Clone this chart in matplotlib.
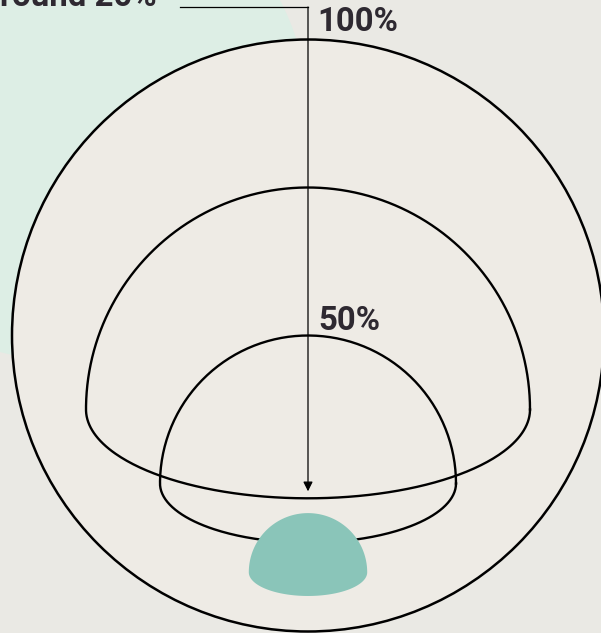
import numpy as np
import matplotlib.pyplot as plt
from matplotlib.patches import Circle

# shares shown as domes, relative to the whole (100%)
shares = [100, 75, 50, 20]
labels = ["100%", "", "50%", "round 20%"]

bg = "#EAE9E4"
inside = "#EEEBE5"
mint = "#DDEEE5"
teal = "#8AC5B9"
ink = "#2E2931"

W, H = 601, 633
fig = plt.figure(figsize=(W / 100, H / 100), dpi=100, facecolor=bg)
ax = fig.add_axes([0, 0, 1, 1])
ax.set_xlim(0, W)
ax.set_ylim(H, 0)
ax.set_aspect("auto")
ax.axis("off")
ax.set_facecolor(bg)

cx, cy, R = 308, 335.5, 296
bottom = cy + R

# mint backdrop circle (upper left)
ax.add_patch(Circle((62, 114), 246, facecolor=mint, edgecolor="none", zorder=1))
# the whole
ax.add_patch(Circle((cx, cy), R, facecolor=inside, edgecolor="black", lw=1.8, zorder=2))

t = np.linspace(0, np.pi, 200)


def dome(share):
    r = R * share / 100
    dcy = bottom - r
    b = 0.4 * r
    xs = np.concatenate([cx + r * np.cos(t), cx - r * np.cos(t)])
    ys = np.concatenate([dcy - r * np.sin(t), dcy + b * np.sin(t)])
    return xs, ys, r


for s in shares[1:3]:
    xs, ys, r = dome(s)
    ax.plot(np.append(xs, xs[0]), np.append(ys, ys[0]), color="black", lw=1.7, zorder=3)

xs, ys, r = dome(shares[3])
ax.fill(xs, ys, color=teal, lw=0, zorder=4)

font = dict(family=["Roboto", "DejaVu Sans"], weight="bold", size=23.8, color=ink)

# labels
ax.text(317, 31, labels[0], ha="left", va="baseline", zorder=6, **font)
r50 = R * shares[2] / 100
ax.text(318, bottom - 2 * r50 - 6, labels[2], ha="left", va="baseline", zorder=6, **font)
ax.text(157, 6, labels[3], ha="right", va="baseline", zorder=6, **font)

# leader arrow for the 20% label
r75 = R * shares[1] / 100
tip = bottom - r75 + 0.4 * r75 - 7
ax.plot([180, cx], [7, 7], color="black", lw=0.9, zorder=5)
ax.annotate("", xy=(cx, tip), xytext=(cx, 7),
            arrowprops=dict(arrowstyle="-|>", color="black", lw=0.9,
                            mutation_scale=14, shrinkA=0, shrinkB=0), zorder=5)

fig.savefig("out.png", dpi=100, facecolor=bg)
